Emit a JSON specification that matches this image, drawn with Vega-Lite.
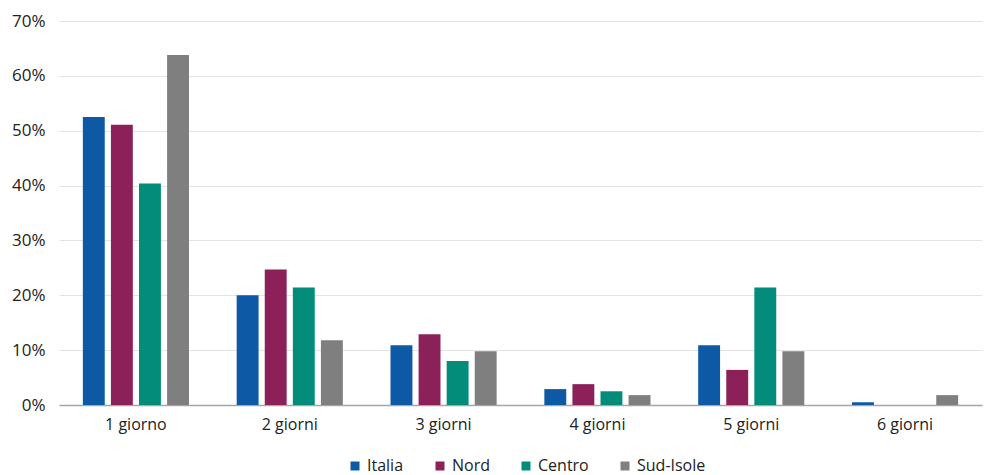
{
  "$schema": "https://vega.github.io/schema/vega-lite/v6.json",
  "width": 923,
  "height": 384,
  "padding": {"left": 11, "top": 12, "right": 3, "bottom": 5},
  "background": "white",
  "config": {
    "font": "Open Sans",
    "view": {"stroke": null},
    "axis": {"labelFont": "Open Sans", "labelColor": "#222222", "labelFontSize": 15}
  },
  "data": {
    "values": [
      {"giorni": "1 giorno", "area": "Italia", "valore": 52.5},
      {"giorni": "1 giorno", "area": "Nord", "valore": 51.1},
      {"giorni": "1 giorno", "area": "Centro", "valore": 40.4},
      {"giorni": "1 giorno", "area": "Sud-Isole", "valore": 63.8},
      {"giorni": "2 giorni", "area": "Italia", "valore": 20.0},
      {"giorni": "2 giorni", "area": "Nord", "valore": 24.7},
      {"giorni": "2 giorni", "area": "Centro", "valore": 21.4},
      {"giorni": "2 giorni", "area": "Sud-Isole", "valore": 11.8},
      {"giorni": "3 giorni", "area": "Italia", "valore": 10.9},
      {"giorni": "3 giorni", "area": "Nord", "valore": 12.9},
      {"giorni": "3 giorni", "area": "Centro", "valore": 8.0},
      {"giorni": "3 giorni", "area": "Sud-Isole", "valore": 9.8},
      {"giorni": "4 giorni", "area": "Italia", "valore": 2.9},
      {"giorni": "4 giorni", "area": "Nord", "valore": 3.8},
      {"giorni": "4 giorni", "area": "Centro", "valore": 2.5},
      {"giorni": "4 giorni", "area": "Sud-Isole", "valore": 1.8},
      {"giorni": "5 giorni", "area": "Italia", "valore": 10.9},
      {"giorni": "5 giorni", "area": "Nord", "valore": 6.4},
      {"giorni": "5 giorni", "area": "Centro", "valore": 21.4},
      {"giorni": "5 giorni", "area": "Sud-Isole", "valore": 9.8},
      {"giorni": "6 giorni", "area": "Italia", "valore": 0.5},
      {"giorni": "6 giorni", "area": "Nord", "valore": 0},
      {"giorni": "6 giorni", "area": "Centro", "valore": 0},
      {"giorni": "6 giorni", "area": "Sud-Isole", "valore": 1.8}
    ]
  },
  "mark": {"type": "bar"},
  "encoding": {
    "x": {
      "field": "giorni",
      "type": "nominal",
      "sort": null,
      "title": null,
      "scale": {"paddingInner": 0.31, "paddingOuter": 0.155},
      "axis": {"labelAngle": 0, "ticks": false, "domainColor": "#a6a6a6", "domainWidth": 1.5, "labelPadding": 11, "labelFontSize": 16, "grid": false}
    },
    "xOffset": {
      "field": "area",
      "type": "nominal",
      "sort": ["Italia", "Nord", "Centro", "Sud-Isole"],
      "scale": {"paddingInner": 0.22}
    },
    "y": {
      "field": "valore",
      "type": "quantitative",
      "title": null,
      "scale": {"domain": [0, 70]},
      "axis": {
        "values": [0, 10, 20, 30, 40, 50, 60, 70],
        "labelExpr": "datum.value + '%'",
        "ticks": false,
        "domain": false,
        "gridColor": "#e3e3e3",
        "gridWidth": 1,
        "labelPadding": 14,
        "labelFontSize": 17
      }
    },
    "color": {
      "field": "area",
      "type": "nominal",
      "sort": ["Italia", "Nord", "Centro", "Sud-Isole"],
      "scale": {
        "domain": ["Italia", "Nord", "Centro", "Sud-Isole"],
        "range": ["#0E59A5", "#8B2158", "#038C7A", "#7F7F7F"]
      },
      "legend": {
        "title": null,
        "orient": "none",
        "legendX": 288,
        "legendY": 437,
        "direction": "horizontal",
        "symbolType": "square",
        "symbolSize": 81,
        "symbolStrokeWidth": 0,
        "labelFontSize": 16,
        "labelFont": "Open Sans",
        "labelColor": "#222222",
        "columnPadding": 28,
        "labelOffset": 4
      }
    }
  }
}
